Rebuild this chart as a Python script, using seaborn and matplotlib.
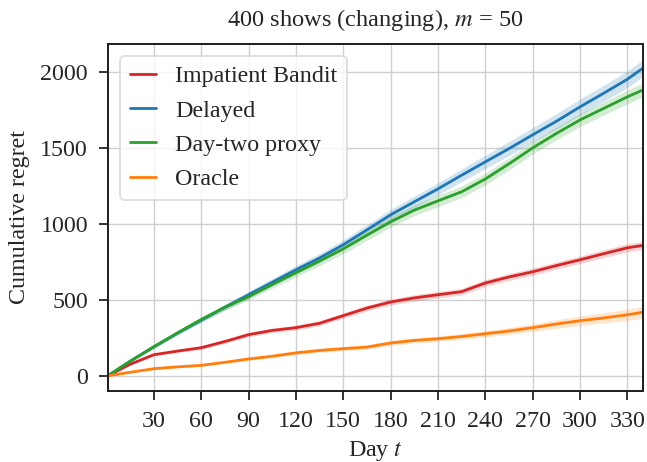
import numpy as np
import pandas as pd
import matplotlib
matplotlib.use("Agg")
import matplotlib.pyplot as plt
import seaborn as sns

# values at these days
days = [1, 15, 30, 45, 60, 75, 90, 105, 120, 135, 150, 165, 180, 195,
        210, 225, 240, 255, 270, 285, 300, 315, 330, 340]

impatient = [0, 75, 138, 162, 184, 225, 270, 298, 316, 345, 395, 445, 485, 512,
             533, 553, 610, 650, 684, 725, 763, 803, 842, 858]
delayed = [0, 95, 190, 280, 365, 450, 533, 615, 697, 775, 862, 960, 1059, 1145,
           1230, 1320, 1408, 1495, 1586, 1675, 1770, 1860, 1952, 2026]
day_two = [0, 95, 190, 282, 370, 450, 520, 600, 678, 755, 835, 925, 1013, 1090,
           1151, 1211, 1295, 1395, 1500, 1595, 1684, 1760, 1836, 1882]
oracle = [0, 22, 46, 58, 68, 88, 110, 128, 150, 166, 178, 188, 215, 232,
          243, 258, 276, 294, 316, 340, 362, 380, 401, 418]

# half widths of the shaded bands
impatient_err = [0, 5, 8, 10, 12, 13, 14, 15, 16, 17, 18, 19, 20, 21,
                 21, 22, 23, 23, 24, 24, 25, 26, 27, 27]
delayed_err = [0, 6, 10, 13, 16, 19, 22, 25, 28, 30, 32, 34, 36, 38,
               40, 42, 44, 46, 48, 50, 52, 53, 55, 56]
day_two_err = [0, 6, 10, 13, 16, 19, 22, 25, 28, 30, 32, 34, 35, 36,
               37, 38, 39, 40, 41, 42, 43, 44, 45, 46]
oracle_err = [0, 4, 6, 7, 8, 9, 10, 11, 12, 13, 14, 15, 16, 17,
              18, 19, 21, 23, 25, 28, 31, 34, 37, 39]

series = {
    "Impatient Bandit": (impatient, impatient_err, "#d62728"),
    "Delayed": (delayed, delayed_err, "#1f77b4"),
    "Day-two proxy": (day_two, day_two_err, "#2ca02c"),
    "Oracle": (oracle, oracle_err, "#ff7f0e"),
}

sns.set_theme(style="whitegrid")
plt.rcParams["font.family"] = ["Liberation Serif", "DejaVu Serif"]
plt.rcParams["mathtext.fontset"] = "stix"
plt.rcParams["font.size"] = 12

rows = []
for name, (vals, err, col) in series.items():
    for d, v in zip(days, vals):
        rows.append({"day": d, "regret": v, "method": name})
df = pd.DataFrame(rows)

fig, ax = plt.subplots(figsize=(647 / 144, 462 / 144), dpi=144)
fig.subplots_adjust(left=0.167, right=0.994, top=0.905, bottom=0.154)

palette = {name: col for name, (v, e, col) in series.items()}
for name, (vals, err, col) in series.items():
    v = np.array(vals)
    e = np.array(err)
    ax.fill_between(days, v - e, v + e, color=col, alpha=0.2, linewidth=0)
sns.lineplot(data=df, x="day", y="regret", hue="method", palette=palette,
             linewidth=1.4, ax=ax)

ax.set_xlim(1, 340)
ax.set_ylim(-100, 2185)
ax.set_xticks(range(30, 331, 30))
ax.set_yticks([0, 500, 1000, 1500, 2000])
ax.tick_params(axis="both", labelsize=12, length=4.5, width=0.9, color="#222222",
               direction="out", bottom=True, left=True, pad=5.5)
for s in ax.spines.values():
    s.set_color("#222222")
    s.set_linewidth(1.0)
ax.grid(True, color="#d0d0d0", linewidth=0.7)

ax.set_xlabel("Day $t$", fontsize=12, labelpad=3.5)
ax.set_ylabel("Cumulative regret", fontsize=12, labelpad=5)
ax.set_title("400 shows (changing), $m$ = 50", fontsize=12.2, pad=9)

leg = ax.legend(loc="upper left", fontsize=12, handlelength=1.1,
                frameon=True, borderaxespad=0.5, labelspacing=0.52)
leg.get_frame().set_edgecolor("#d8d8d8")
for line in leg.get_lines():
    line.set_linewidth(1.4)

fig.savefig("out.png", dpi=144)
